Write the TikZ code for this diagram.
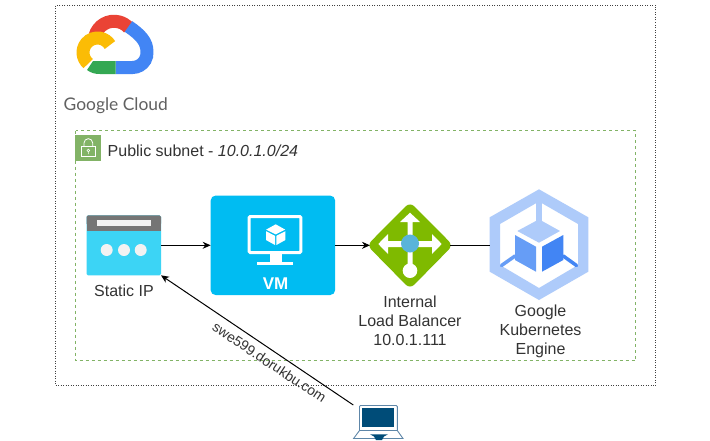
\documentclass[tikz,border=0pt]{standalone}
\usepackage{fontspec}
\setmainfont{Liberation Sans}
\newfontfamily\gcfont{Lato}
\usetikzlibrary{arrows.meta}
\definecolor{gred}{HTML}{EA4335}
\definecolor{gblue}{HTML}{4285F4}
\definecolor{gyellow}{HTML}{FBBC05}
\definecolor{ggreen}{HTML}{34A853}
\definecolor{gketone}{HTML}{AECBFA}
\definecolor{gkemid}{HTML}{669DF6}
\definecolor{vmblue}{HTML}{00BCF2}
\definecolor{ipblue}{HTML}{3CD4F5}
\definecolor{lbgreen}{HTML}{7FBA00}
\definecolor{lbblue}{HTML}{59B4D9}
\definecolor{subnetgreen}{HTML}{82B366}
\definecolor{laptopdark}{HTML}{004C78}
\definecolor{laptopline}{HTML}{5E86A8}
\definecolor{labelgrey}{HTML}{333333}
\tikzset{
  outerbox/.style={draw=black!75,line width=.7pt,dash pattern=on 1pt off 1.5pt},
  subnetbox/.style={draw=subnetgreen,line width=.8pt,dash pattern=on 3pt off 3pt},
  lbl/.style={font=\fontsize{16}{19}\selectfont,text=labelgrey,align=center,inner sep=0pt},
  slot/.style={inner sep=0pt,outer sep=0pt},
  conn/.style={draw=black,line width=1pt},
  tip/.style={-{Stealth[length=8pt,width=7pt]}},
  cloudseg/.style={line width=13pt,line cap=butt},
}
\begin{document}
\begin{tikzpicture}[x=1pt,y=-1pt]
\useasboundingbox (0,0) rectangle (710,440);
\fill[white] (0,0) rectangle (710,440);
% containers
\draw[outerbox] (55.5,5.5) rectangle (655.5,385.5);
\draw[subnetbox] (75.5,130.5) rectangle (635.5,360.5);
% Google Cloud logo
\draw[cloudseg,gred] (114,41) ++(-165:19.75) arc[start angle=-165,end angle=-42,radius=19.75];
\draw[cloudseg,gblue] (115.5,67.5) -- (132.5,67.5) arc[start angle=90,end angle=-5,radius=14.5] .. controls (147,42) and (141,35) .. (128.5,26.5);
\fill[ggreen] (87,70) -- (93,61) -- (115.7,61) -- (115.7,74) -- (100,74) .. controls (95,74) and (91,73) .. (87,70) -- cycle;
\draw[cloudseg,gyellow] (88.2,63.6) arc[start angle=130,end angle=329,radius=14.5];
% subnet badge
\fill[subnetgreen] (75.3,135) rectangle (100.7,160.7);
\draw[white,line width=.8pt] (81.7,146) rectangle (95,156.5);
\draw[white,line width=.8pt] (84,146) -- (84,143) arc[start angle=180,end angle=360,radius=4.35] -- (92.7,146);
\draw[white,line width=.6pt] (88.35,150.5) circle[radius=1.4] (88.35,152) -- (88.35,154);
\node[lbl,anchor=base west] (subnetlabel) at (107.5,156.5) {Public subnet - \textit{10.0.1.0/24}};
\node[anchor=base west,inner sep=0pt,font=\gcfont\fontsize{17.4}{20}\selectfont,text=black!62] (gclabel) at (63.5,110.5) {Google Cloud};
% static IP
\node[slot,minimum width=74.5pt,minimum height=60pt] (ip) at (123.75,245.3) {};
\fill[ipblue,rounded corners=1.5pt] (ip.north west) rectangle (ip.south east);
\fill[black!54,rounded corners=1.5pt] (ip.north west) rectangle (161,225);
\fill[black!54] (86.5,222) rectangle (161,230.7);
\fill[black!5] (96.7,219.7) rectangle (151,225.7);
\foreach \cx in {106.7,124,140.7} \fill[black!5] (\cx,250) circle[radius=6];
\node[lbl] (iplabel) at (124,291) {Static IP};
% VM
\node[slot,minimum width=124.5pt,minimum height=99.5pt] (vm) at (272.9,245.3) {};
\fill[vmblue,rounded corners=5pt] (vm.north west) rectangle (vm.south east);
\draw[white,line width=3pt,rounded corners=1pt] (249.2,216.5) rectangle (300.8,252.5);
\fill[white] (270,254) rectangle (281.7,263);
\fill[white] (256.7,262.3) rectangle (293.3,265);
\fill[white] (275.7,224.3) -- (285.2,229.6) -- (275.7,234.4) -- (266.2,229.6) -- cycle;
\fill[white] (266,231.2) -- (275,235.8) -- (275,245) -- (266,240) -- cycle;
\fill[white] (285.4,231.2) -- (276.4,235.8) -- (276.4,245) -- (285.4,240) -- cycle;
\node[font=\bfseries\fontsize{17}{20}\selectfont,text=white,inner sep=0pt] (vmlabel) at (275.5,283.5) {VM};
% load balancer
\node[slot,minimum width=80pt,minimum height=81pt] (lb) at (410,245.3) {};
\fill[lbgreen,rounded corners=6pt] (410,202) -- (453,245.3) -- (410,289) -- (367,245.3) -- cycle;
\fill[white] (407.5,222) -- (407.5,241) -- (388,241) -- (388,234) -- (378.3,244) -- (388,254) -- (388,247) -- (407.5,247) -- (407.5,265) -- (412.5,265) -- (412.5,247) -- (432,247) -- (432,254) -- (441.7,244) -- (432,234) -- (432,241) -- (412.5,241) -- (412.5,222) -- (420,222) -- (410,212.7) -- (400,222) -- cycle;
\fill[white] (410,270.7) circle[radius=7.3];
\fill[lbblue] (410,243.5) circle[radius=9];
\node[lbl] (lblabel) at (410,320.5) {Internal\\Load Balancer\\10.0.1.111};
% GKE
\node[slot,minimum width=99pt,minimum height=110.7pt] (gke) at (539,245.3) {};
\fill[gketone,even odd rule] (539,189.3) -- (588.3,217.3) -- (588.3,271.7) -- (539,300) -- (489.7,271.7) -- (489.7,217.3) -- cycle
  (539,201.5) -- (578,224) -- (578,265) -- (539,288) -- (500,265) -- (500,224) -- cycle;
\fill[gketone] (536,198) rectangle (542,222);
\fill[gketone] (539,219.3) -- (560,231) -- (539,242.7) -- (517.3,231) -- cycle;
\fill[gkemid] (515,235) -- (536,246.7) -- (536,271.7) -- (515,260) -- cycle;
\fill[gblue] (542,246.7) -- (563.3,235) -- (563.3,260) -- (542,271.7) -- cycle;
\draw[gkemid,line width=3.5pt,line cap=round] (515,256) -- (501.5,265.5);
\draw[gblue,line width=3.5pt,line cap=round] (563.3,256) -- (576.5,265.5);
\node[lbl] (gkelabel) at (540.5,331) {Google\\Kubernetes\\Engine};
% laptop
\node[slot,minimum width=50pt,minimum height=35pt] (pc) at (378.3,422.5) {};
\draw[laptopline,line width=.9pt,fill=white,rounded corners=1pt] (359.5,430.5) -- (359.5,405.5) -- (397.3,405.5) -- (397.3,430.5);
\fill[laptopdark] (362,408.3) rectangle (394.3,427.3);
\draw[laptopline,line width=.9pt] (359.5,430.5) -- (353.6,438.5) -- (403,438.5) -- (397.3,430.5) -- cycle;
\fill[laptopdark] (370,434.3) -- (388,434.3) -- (384,436.5) -- (382,440) -- (376,440) -- (374,436.5) -- cycle;
% connectors
\draw[conn,tip] (ip) -- (vm);
\draw[conn,tip] (vm) -- (lb.west);
\draw[conn] (lb.east) -- (gke.west);
\draw[conn,tip] (pc.north west) -- (ip.south east);
\node[font=\fontsize{14}{17}\selectfont,text=labelgrey,rotate=-33.5,inner sep=0pt] (dns) at (269.5,362.5) {swe599.dorukbu.com};
\end{tikzpicture}
\end{document}
